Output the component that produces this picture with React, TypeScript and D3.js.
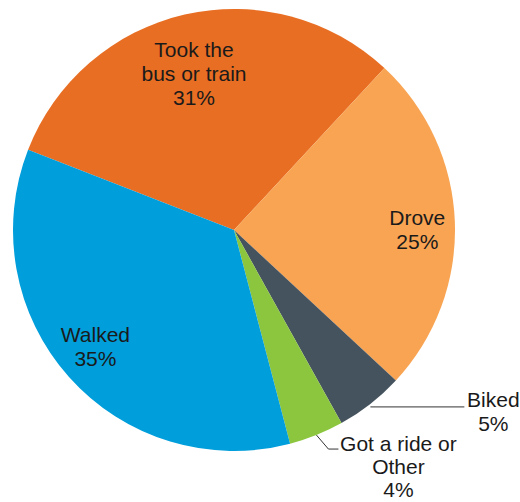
import React from 'react'
import * as d3 from 'd3'

// slices in drawing order, clockwise from the bus/train slice
const modes = ['Took the bus or train', 'Drove', 'Biked', 'Got a ride or Other', 'Walked']
const shares = [31, 25, 5, 4, 35]
const labelLines = [
  ['Took the', 'bus or train', '31%'],
  ['Drove', '25%'],
  ['Biked', '5%'],
  ['Got a ride or', 'Other', '4%'],
  ['Walked', '35%'],
]
const colors = ['#E86E23', '#F8A453', '#45535E', '#8CC63F', '#009EDB']

const W = 520
const H = 502
const cx = 234
const cy = 230
const radius = 221
const fontSize = 21
const lineH = 24
const start = (-68.7 * Math.PI) / 180

export default function App() {
  const pie = d3.pie<number>()
    .sort(null)
    .value(d => d)
    .startAngle(start)
    .endAngle(start + 2 * Math.PI)
  const arcs = pie(shares)
  const arcGen = d3.arc<d3.PieArcDatum<number>>().innerRadius(0).outerRadius(radius)

  const polar = (a: number, r: number): [number, number] => [Math.sin(a) * r, -Math.cos(a) * r]

  // inside labels sit on the mid angle at a fraction of the radius, then nudged
  const insideR: Record<number, number> = { 0: 0.71, 1: 0.83, 4: 0.84 }
  const nudge: Record<number, [number, number]> = { 0: [-5, -3], 1: [0, 7], 4: [0, -6] }

  return (
    <svg width={W} height={H} style={{ position: 'absolute', left: 0, top: 0, background: '#fff' }}
      fontFamily="'Liberation Sans', Arial, sans-serif" fontSize={fontSize} fill="#1a1a1a">
      <g transform={`translate(${cx},${cy})`}>
        {arcs.map((a, i) => (
          <path key={modes[i]} d={arcGen(a) || ''} fill={colors[i]} />
        ))}
        {arcs.map((a, i) => {
          const mid = (a.startAngle + a.endAngle) / 2
          const lines = labelLines[i]
          if (insideR[i] !== undefined) {
            const [px, py] = polar(mid, radius * insideR[i])
            const x = px + nudge[i][0]
            const y0 = py + nudge[i][1] - ((lines.length - 1) * lineH) / 2 + 7
            return (
              <text key={'l' + i} textAnchor="middle" x={x} y={y0}>
                {lines.map((t, j) => (
                  <tspan key={j} x={x} y={y0 + j * lineH}>{t}</tspan>
                ))}
              </text>
            )
          }
          const [ex, ey] = polar(mid, radius)
          if (i === 2) {
            // Biked: straight leader to the right
            const lx = ex + 94
            return (
              <g key={'l' + i}>
                <polyline points={`${ex},${ey + 3} ${lx},${ey + 3}`} fill="none" stroke="#333" strokeWidth={1} />
                <text textAnchor="middle" x={lx + 29} y={ey + 3}>
                  {lines.map((t, j) => (
                    <tspan key={j} x={lx + 29} y={ey + 3 + j * lineH}>{t}</tspan>
                  ))}
                </text>
              </g>
            )
          }
          // Got a ride: elbow leader
          const bx = ex + 12
          const by = ey + 14
          const tx = bx + 10
          const gl = lineH - 1
          return (
            <g key={'l' + i}>
              <polyline points={`${ex},${ey} ${bx},${by} ${tx},${by}`} fill="none" stroke="#333" strokeWidth={1} />
              <text textAnchor="middle" x={tx + 60} y={by + 2}>
                {lines.map((t, j) => (
                  <tspan key={j} x={tx + 60} y={by + 2 + j * gl}>{t}</tspan>
                ))}
              </text>
            </g>
          )
        })}
      </g>
    </svg>
  )
}
